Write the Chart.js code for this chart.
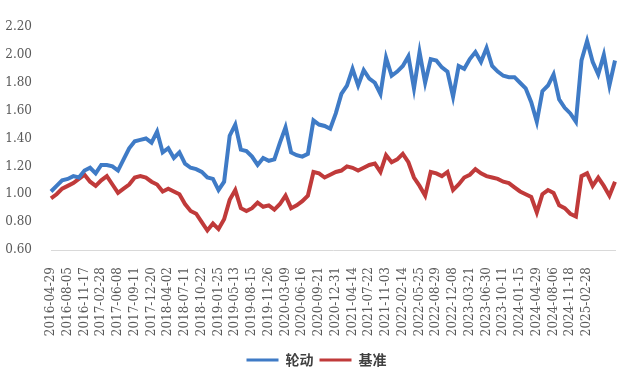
<!DOCTYPE html>
<html>
<head>
<meta charset="utf-8">
<script src="https://cdn.jsdelivr.net/npm/chart.js@4.4.1/dist/chart.umd.min.js"></script>
<style>
  html, body { margin: 0; padding: 0; background: #fff; }
  #wrap { width: 621px; height: 381px; }
</style>
</head>
<body>
<div id="wrap"><canvas id="rotation-chart" width="621" height="381"></canvas></div>
<script>
// tick labels on the x axis, one every 3 points
const tickLabels = ['2016-04-29','2016-08-05','2016-11-17','2017-02-28','2017-06-08','2017-09-11',
  '2017-12-20','2018-04-02','2018-07-11','2018-10-22','2019-01-25','2019-05-13','2019-08-15',
  '2019-11-26','2020-03-09','2020-06-16','2020-09-21','2020-12-31','2021-04-14','2021-07-22',
  '2021-11-03','2022-02-14','2022-05-25','2022-08-29','2022-12-08','2023-03-21','2023-06-30',
  '2023-10-11','2024-01-15','2024-04-29','2024-08-06','2024-11-18','2025-02-28']

const seriesNames = ['轮动', '基准']

// 轮动 (rotation strategy) net value
const rotation = [1.02,1.06,1.10,1.11,1.13,1.12,1.17,1.19,1.15,1.21,
  1.21,1.20,1.17,1.25,1.33,1.38,1.39,1.40,1.37,1.45,
  1.30,1.33,1.26,1.30,1.22,1.19,1.18,1.16,1.12,1.11,
  1.03,1.09,1.42,1.50,1.32,1.31,1.27,1.21,1.26,1.24,
  1.25,1.37,1.48,1.30,1.28,1.27,1.29,1.53,1.50,1.49,
  1.47,1.58,1.72,1.78,1.90,1.78,1.89,1.83,1.80,1.72,
  1.98,1.85,1.88,1.92,1.99,1.76,2.02,1.80,1.97,1.96,
  1.91,1.88,1.70,1.92,1.90,1.97,2.02,1.95,2.05,1.92,
  1.88,1.85,1.84,1.84,1.80,1.76,1.66,1.52,1.74,1.78,
  1.86,1.68,1.62,1.58,1.52,1.96,2.10,1.95,1.86,2.00,
  1.78,1.96]

// 基准 (benchmark) net value
const benchmark = [0.97,1.00,1.04,1.06,1.08,1.11,1.14,1.09,1.06,1.10,
  1.13,1.07,1.01,1.04,1.07,1.12,1.13,1.12,1.09,1.07,
  1.02,1.04,1.02,1.00,0.93,0.88,0.86,0.80,0.74,0.79,
  0.75,0.82,0.96,1.03,0.90,0.88,0.90,0.94,0.91,0.92,
  0.89,0.93,0.99,0.90,0.92,0.95,0.99,1.16,1.15,1.12,
  1.14,1.16,1.17,1.20,1.19,1.17,1.19,1.21,1.22,1.16,
  1.28,1.23,1.25,1.29,1.23,1.12,1.06,0.99,1.16,1.15,
  1.13,1.16,1.03,1.07,1.12,1.14,1.18,1.15,1.13,1.12,
  1.11,1.09,1.08,1.05,1.02,1.00,0.98,0.87,1.00,1.03,
  1.01,0.92,0.90,0.86,0.84,1.13,1.15,1.06,1.12,1.06,
  0.99,1.09]

const pointsPerTick = 3

let categories = []
for (let i = 0; i < rotation.length; i++) {
  categories.push(i % pointsPerTick === 0 && tickLabels[i / pointsPerTick] ? tickLabels[i / pointsPerTick] : '')
}

const blue = '#3f7bc6'
const red = '#c03a3a'
const textGray = '#595959'

// legend sits a bit right of centre in the original
const nudgeLegend = {
  id: 'nudgeLegend',
  afterLayout: function (chart) {
    if (chart.legend) { chart.legend.left += 18 }
  }
}

var ctx = document.getElementById('rotation-chart').getContext('2d')

new Chart(ctx, {
  type: 'line',
  data: {
    labels: categories,
    datasets: [{
      label: seriesNames[0],
      data: rotation,
      borderColor: blue,
      backgroundColor: blue,
      borderWidth: 4,
      pointRadius: 0,
      tension: 0
    }, {
      label: seriesNames[1],
      data: benchmark,
      borderColor: red,
      backgroundColor: red,
      borderWidth: 4,
      pointRadius: 0,
      tension: 0
    }]
  },
  options: {
    responsive: false,
    animation: false,
    layout: { padding: { left: 0, right: 6, top: 27, bottom: 4 } },
    scales: {
      x: {
        grid: { display: false },
        border: { display: true, color: '#d9d9d9', width: 1 },
        ticks: {
          autoSkip: false,
          minRotation: 90,
          maxRotation: 90,
          padding: 9,
          color: textGray,
          font: { family: 'DejaVu Serif', size: 12 }
        },
        afterFit: function (scale) {
          scale.height = 97
          scale.paddingLeft = 0
          scale.paddingRight = 0
        }
      },
      y: {
        min: 0.6,
        max: 2.2,
        grid: { display: false },
        border: { display: false },
        ticks: {
          stepSize: 0.2,
          padding: 11,
          color: textGray,
          font: { family: 'DejaVu Serif', size: 12 },
          callback: function (v) { return v.toFixed(2) }
        },
        afterFit: function (scale) { scale.width = 51 }
      }
    },
    plugins: {
      tooltip: { enabled: false },
      legend: {
        display: true,
        position: 'bottom',
        align: 'center',
        labels: {
          boxWidth: 32,
          boxHeight: 3,
          padding: 6,
          color: '#404040',
          font: { family: 'Noto Sans CJK SC', size: 14, weight: 'bold' },
          generateLabels: function (chart) {
            const items = Chart.defaults.plugins.legend.labels.generateLabels(chart)
            items.forEach(function (it) { it.lineWidth = 0; it.fillStyle = it.strokeStyle })
            return items
          }
        }
      }
    }
  },
  plugins: [nudgeLegend]
})
</script>
</body>
</html>
